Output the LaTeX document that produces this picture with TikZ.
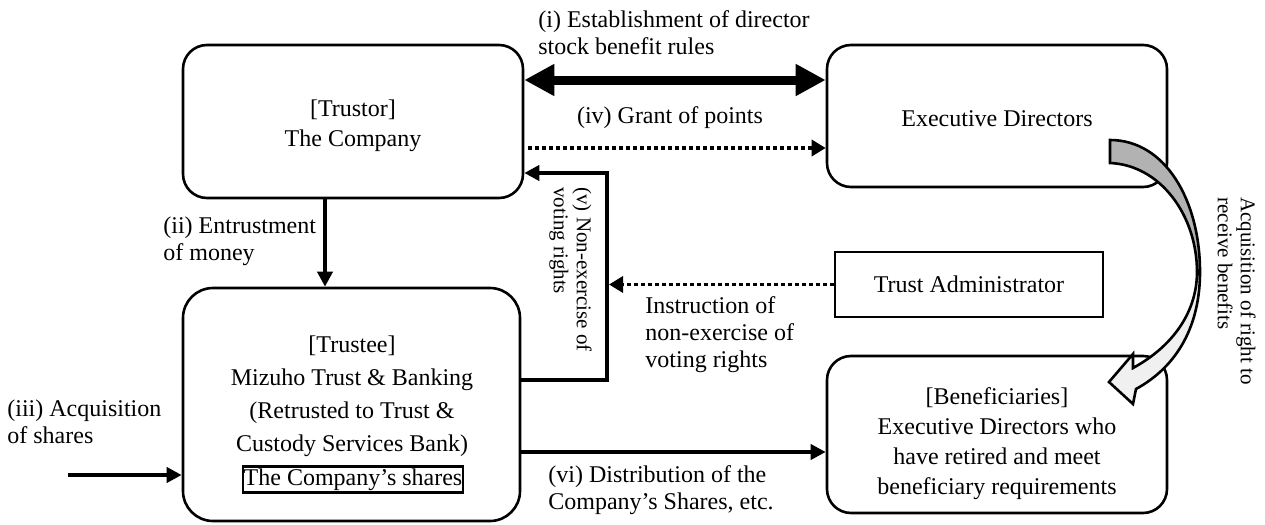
\documentclass[tikz,border=0pt]{standalone}
\usepackage{fontspec}
\setmainfont{Liberation Serif}
\usetikzlibrary{arrows.meta,calc}
\definecolor{arrowdark}{HTML}{B2B2B2}
\definecolor{arrowlight}{HTML}{F0F0F0}
\begin{document}
\begin{tikzpicture}[x=0.5pt,y=-0.5pt,
  box/.style={draw,line width=1.3pt,rounded corners=12pt,inner sep=0pt},
  txt/.style={font=\fontsize{12}{15}\selectfont,align=center,inner sep=0pt},
  lab/.style={font=\fontsize{12}{13.5}\selectfont,align=left,inner sep=0pt},
  vlab/.style={font=\fontsize{10.5}{11.5}\selectfont,align=left,inner sep=0pt,rotate=-90,anchor=north west},
  conn/.style={line width=2pt,-{Triangle[length=7.5pt,width=7.5pt]}},
  dotconn/.style={line width=1.7pt,dash pattern=on 2pt off 1.5pt,-{Triangle[length=7pt,width=8pt]}},
  bigdbl/.style={line width=4.5pt,{Triangle[length=15pt,width=15pt]}-{Triangle[length=15pt,width=15pt]}},
  curvout/.style={draw,line width=1.3pt,line join=miter}
]
\useasboundingbox (0,0) rectangle (1265,525);

% boxes
\node[box,minimum width=170pt,minimum height=76.5pt] (trustor) at (353,121.5) {};
\node[txt] (trustortxt) at (353,126) {[Trustor]\\The Company};
\node[box,minimum width=170pt,minimum height=71pt] (exec) at (997,116) {};
\node[txt] (exectxt) at (997,119) {Executive Directors};
\node[draw,line width=1.3pt,txt,minimum width=134pt,minimum height=32.5pt] (admin) at (969,284.5) {Trust Administrator};
\node[box,rounded corners=15pt,minimum width=168.5pt,minimum height=116.5pt] (trustee) at (351.5,404.5) {};
\node[txt,font=\fontsize{12}{16.5}\selectfont] (trusteetxt) at (352,396) {[Trustee]\\Mizuho Trust \& Banking\\(Retrusted to Trust \&\\Custody Services Bank)};
\node[draw,line width=1.1pt,txt,inner xsep=0.5pt,inner ysep=1pt] (shares) at (353,479.5) {The Company’s shares};
\node[box,minimum width=170pt,minimum height=78.5pt] (benef) at (997,434.5) {};
\node[txt] (beneftxt) at (997,444) {[Beneficiaries]\\Executive Directors who\\have retired and meet\\beneficiary requirements};

% helper coordinates
\coordinate (yI) at (0,80);
\coordinate (yIV) at (0,148);
\coordinate (xII) at (325,0);
\coordinate (vtop) at (607,173);
\coordinate (yV) at (0,380);
\coordinate (yVI) at (0,452);
\coordinate (iiistart) at (68,475);

% connectors
\draw[bigdbl] (trustor.east |- yI) -- (exec.west |- yI);
\draw[dotconn,shorten <=2pt] (trustor.east |- yIV) -- (exec.west |- yIV);
\draw[conn] (trustor.south -| xII) -- (trustee.north -| xII);
\draw[conn] (trustee.east |- yV) -| (vtop) -- (trustor.east |- vtop);
\draw[dotconn] (admin.west) -- ([xshift=1pt]vtop |- admin.west);
\draw[conn] (trustee.east |- yVI) -- (benef.west |- yVI);
\draw[conn] (iiistart) -- (trustee.west |- iiistart);

% labels
\node[lab,anchor=west] (labI) at (538,33) {(i) Establishment of director\\stock benefit rules};
\node[lab] (labIV) at (670,118) {(iv) Grant of points};
\node[lab,anchor=west] (labII) at (163,241) {(ii) Entrustment\\of money};
\node[lab,anchor=west] (labIII) at (7,422) {(iii) Acquisition\\of shares};
\node[lab,anchor=west] (labInst) at (645,335) {Instruction of\\non-exercise of\\voting rights};
\node[lab,anchor=west] (labVI) at (548,490) {(vi) Distribution of the\\Company’s Shares, etc.};
\node[vlab] (labV) at (592,187) {(v) Non-exercise of\\voting rights};
\node[vlab] (labAcq) at (1256,197) {Acquisition of right to\\receive benefits};

% curved arrow
\fill[arrowlight] (1110,140) .. controls (1165,140) and (1200,200) .. (1200,272)
  .. controls (1200,325) and (1178,366) .. (1136,389) -- (1133,404) -- (1109,382)
  -- (1133,354) -- (1133,368) .. controls (1175,345) and (1197,310) .. (1197,272)
  .. controls (1197,215) and (1160,165) .. (1110,163) -- cycle;
\fill[arrowdark] (1110,140) .. controls (1165,140) and (1200,200) .. (1200,272)
  -- (1197,272) .. controls (1197,215) and (1160,165) .. (1110,163) -- cycle;
\path[curvout] (1110,140) .. controls (1165,140) and (1200,200) .. (1200,272)
  .. controls (1200,325) and (1178,366) .. (1136,389) -- (1133,404) -- (1109,382)
  -- (1133,354) -- (1133,368) .. controls (1175,345) and (1197,310) .. (1197,272)
  .. controls (1197,215) and (1160,165) .. (1110,163) -- cycle;
\end{tikzpicture}
\end{document}
